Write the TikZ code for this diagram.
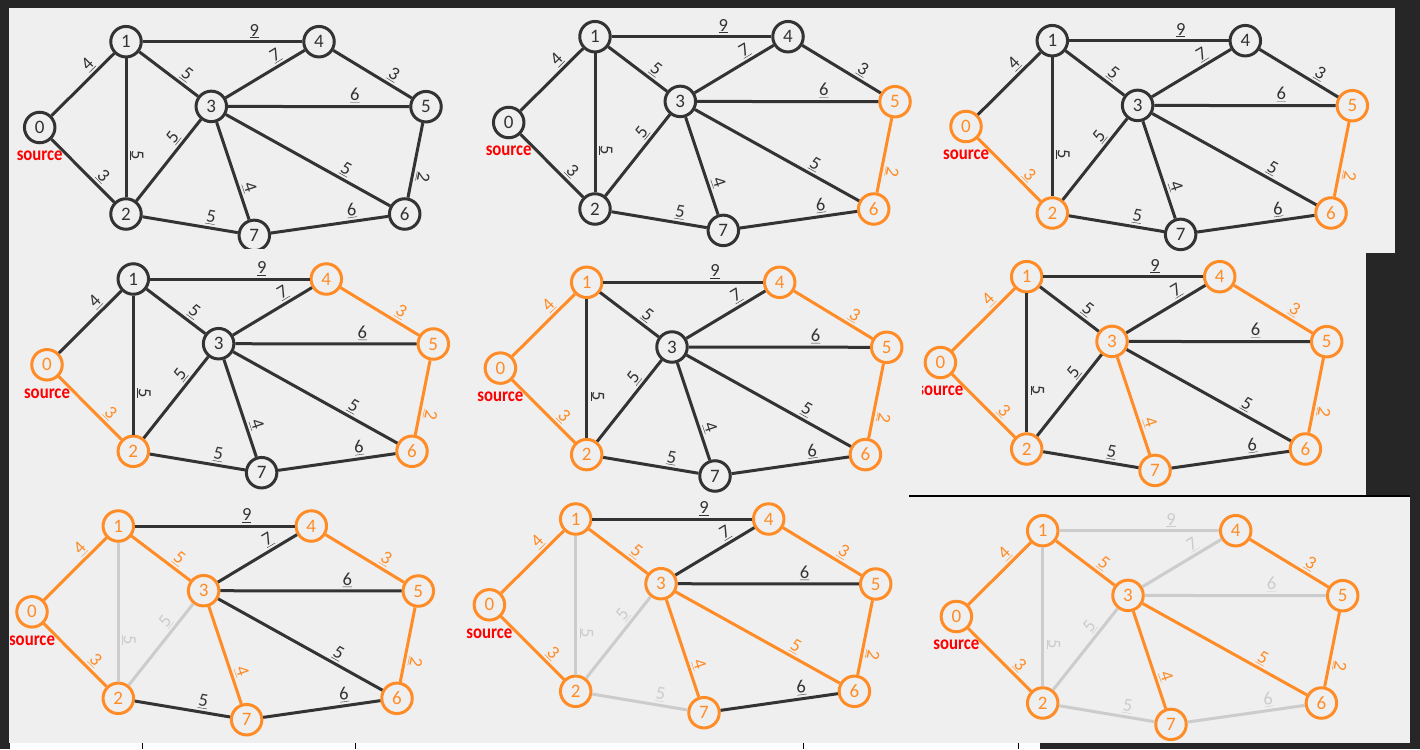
\documentclass[tikz,border=0pt]{standalone}
\usepackage{fontspec}
\setmainfont{Carlito}
\definecolor{bgdark}{HTML}{262626}
\definecolor{panel}{HTML}{EFEFEF}
\definecolor{orng}{HTML}{FF8C26}
\definecolor{dk}{HTML}{333333}
\definecolor{lg}{HTML}{CCCCCC}
\definecolor{srcred}{HTML}{FF0000}
\tikzset{
 gnode/.style={circle, draw=dk, fill=panel, line width=3pt, minimum size=30.5pt, inner sep=0pt, text=dk, font=\fontsize{19}{19}\selectfont},
 onnode/.style={draw=orng, text=orng},
 gedge/.style={line width=3pt, color=dk},
 onedge/.style={color=orng},
 offedge/.style={color=lg},
 wlabel/.style={sloped, above=1pt, pos=0.7, inner sep=1pt, allow upside down, font=\fontsize{18.5}{18.5}\selectfont},
 srclabel/.style={text=srcred, font=\bfseries\fontsize{19.5}{19.5}\selectfont, xscale=0.86, inner sep=0pt},
 n0/.style={}, n1/.style={}, n2/.style={}, n3/.style={}, n4/.style={}, n5/.style={}, n6/.style={}, n7/.style={},
 e01/.style={}, e02/.style={}, e12/.style={}, e13/.style={}, e14/.style={}, e23/.style={}, e27/.style={},
 e34/.style={}, e35/.style={}, e36/.style={}, e37/.style={}, e45/.style={}, e56/.style={}, e76/.style={},
 allon/.style={n0/.style=onnode, n1/.style=onnode, n2/.style=onnode, n3/.style=onnode, n4/.style=onnode, n5/.style=onnode, n6/.style=onnode, n7/.style=onnode},
 ticks/.style={black, line width=1pt}
}
\newcommand\kgraph[3]{%
\begin{scope}[shift={(#2,#3)}]
\node[gnode,n0] (#1n0) at (-86.3,85.8) {0};
\node[gnode,n1] (#1n1) at (0,0) {1};
\node[gnode,n2] (#1n2) at (0,172.3) {2};
\node[gnode,n3] (#1n3) at (85.3,64.7) {3};
\node[gnode,n4] (#1n4) at (193,0) {4};
\node[gnode,n5] (#1n5) at (300,65) {5};
\node[gnode,n6] (#1n6) at (278.7,172.3) {6};
\node[gnode,n7] (#1n7) at (128.3,193.7) {7};
\node[srclabel] (#1src) at (-86.3,114.3) {source};
\draw[gedge,e01] (#1n0) -- node[wlabel]{\underline{4}} (#1n1);
\draw[gedge,e02] (#1n0) -- node[wlabel]{\underline{3}} (#1n2);
\draw[gedge,e12] (#1n1) -- node[wlabel]{\underline{5}} (#1n2);
\draw[gedge,e13] (#1n1) -- node[wlabel]{\underline{5}} (#1n3);
\draw[gedge,e14] (#1n1) -- node[wlabel]{\underline{9}} (#1n4);
\draw[gedge,e23] (#1n2) -- node[wlabel]{\underline{5}} (#1n3);
\draw[gedge,e27] (#1n2) -- node[wlabel]{\underline{5}} (#1n7);
\draw[gedge,e34] (#1n3) -- node[wlabel]{\underline{7}} (#1n4);
\draw[gedge,e35] (#1n3) -- node[wlabel]{\underline{6}} (#1n5);
\draw[gedge,e36] (#1n3) -- node[wlabel]{\underline{5}} (#1n6);
\draw[gedge,e37] (#1n3) -- node[wlabel]{\underline{4}} (#1n7);
\draw[gedge,e45] (#1n4) -- node[wlabel]{\underline{3}} (#1n5);
\draw[gedge,e56] (#1n5) -- node[wlabel]{\underline{2}} (#1n6);
\draw[gedge,e76] (#1n7) -- node[wlabel]{\underline{6}} (#1n6);
\end{scope}}
\begin{document}
\begin{tikzpicture}[x=1pt,y=-1pt]
\useasboundingbox (0,0) rectangle (1420,749);
\fill[bgdark] (0,0) rectangle (1420,749);
\fill[panel] (9,8) rectangle (1395,253);
\fill[panel] (9,253) rectangle (1366,496);
\fill[panel] (9,496) rectangle (1410,743);
\fill[white] (10,743) rectangle (1040,749);
\draw[black, line width=2.5pt] (909,496) -- (1410,496);
\draw[ticks] (142,743) -- (142,749);
\draw[ticks] (355,743) -- (355,749);
\draw[ticks] (803,743) -- (803,749);
\draw[ticks] (1018,743) -- (1018,749);
% row 1
\begin{scope}
\clip (9,8) rectangle (470,248);
\kgraph{a}{126}{41.7}
\end{scope}
\begin{scope}[n5/.style=onnode, n6/.style=onnode, e56/.style=onedge]
\clip (460,8) rectangle (940,252);
\kgraph{b}{595}{36.7}
\end{scope}
\begin{scope}[n0/.style=onnode, n2/.style=onnode, n5/.style=onnode, n6/.style=onnode, e02/.style=onedge, e56/.style=onedge]
\clip (940,8) rectangle (1395,253);
\kgraph{c}{1052.3}{40.7}
\end{scope}
% row 2
\begin{scope}[n0/.style=onnode, n2/.style=onnode, n4/.style=onnode, n5/.style=onnode, n6/.style=onnode, e02/.style=onedge, e45/.style=onedge, e56/.style=onedge]
\clip (9,248) rectangle (470,495);
\kgraph{d}{133.3}{279}
\end{scope}
\begin{scope}[n0/.style=onnode, n1/.style=onnode, n2/.style=onnode, n4/.style=onnode, n5/.style=onnode, n6/.style=onnode, e01/.style=onedge, e02/.style=onedge, e45/.style=onedge, e56/.style=onedge]
\clip (460,248) rectangle (922,495);
\kgraph{e}{586.7}{282.3}
\end{scope}
\begin{scope}[allon, e01/.style=onedge, e02/.style=onedge, e37/.style=onedge, e45/.style=onedge, e56/.style=onedge]
\clip (922,253) rectangle (1366,495);
\kgraph{f}{1026.7}{276.7}
\end{scope}
% row 3
\begin{scope}[allon, e01/.style=onedge, e02/.style=onedge, e13/.style=onedge, e37/.style=onedge, e45/.style=onedge, e56/.style=onedge, e12/.style=offedge, e23/.style=offedge]
\clip (10,497) rectangle (460,743);
\kgraph{g}{118.3}{526}
\end{scope}
\begin{scope}[allon, e01/.style=onedge, e02/.style=onedge, e13/.style=onedge, e36/.style=onedge, e37/.style=onedge, e45/.style=onedge, e56/.style=onedge, e12/.style=offedge, e23/.style=offedge, e27/.style=offedge]
\clip (460,497) rectangle (909,743);
\kgraph{h}{575.7}{519}
\end{scope}
\begin{scope}[allon, e01/.style=onedge, e02/.style=onedge, e13/.style=onedge, e36/.style=onedge, e37/.style=onedge, e45/.style=onedge, e56/.style=onedge, e12/.style=offedge, e23/.style=offedge, e27/.style=offedge, e14/.style=offedge, e34/.style=offedge, e35/.style=offedge, e76/.style=offedge]
\clip (909,498) rectangle (1410,743);
\kgraph{i}{1042.7}{530.7}
\end{scope}
\end{tikzpicture}
\end{document}
